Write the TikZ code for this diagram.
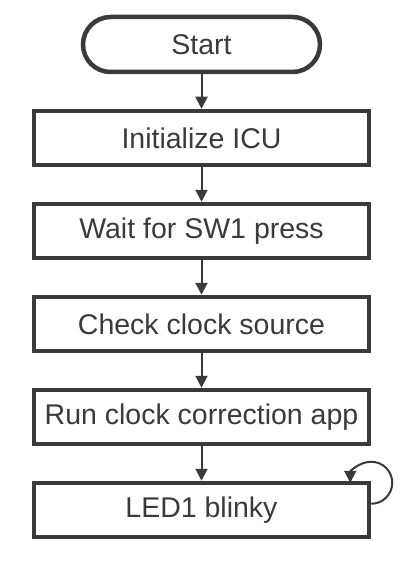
\documentclass[tikz,border=0pt]{standalone}
\usepackage{fontspec}
\setmainfont{Liberation Sans}
\usepackage{tikz}
\usetikzlibrary{arrows.meta,shapes.misc,positioning}
\definecolor{ink}{HTML}{3A3A3A}

\begin{document}
\begin{tikzpicture}[x=1pt,y=1pt,node distance=34.5pt,>={Triangle[length=12pt,width=12pt]},line width=2pt,color=ink]
      \tikzstyle{startstop}=[rounded rectangle,draw,line width=4.5pt,minimum width=237pt,minimum height=55pt,inner sep=0pt,font=\fontsize{28.5}{32}\selectfont]
      \tikzstyle{process}=[rectangle,draw,line width=4.5pt,minimum width=335pt,minimum height=54pt,inner sep=0pt,font=\fontsize{28.5}{32}\selectfont]
      \useasboundingbox (0,0) rectangle (411,-564);
      \node[startstop](start) at (201.5,-44.5){Start};
      \node[process,below=of start](init){Initialize ICU};
      \node[process,below=of init](wait){Wait for SW1 press};
      \node[process,below=of wait](check){Check clock source};
      \node[process,below=of check](run){Run clock correction app};
      \node[process,below=of run](led){LED1 blinky};
      \draw[->](start.south)--(init.north);
      \draw[->](init.south)--(wait.north);
      \draw[->](wait.south)--(check.north);
      \draw[->](check.south)--(run.north);
      \draw[->](run.south)--(led.north);
      % LED1 blinky loops on itself
      \draw[->]([yshift=-23pt]led.north east) arc[start angle=-90,end angle=180,radius=21pt];
    \end{tikzpicture}
\end{document}
